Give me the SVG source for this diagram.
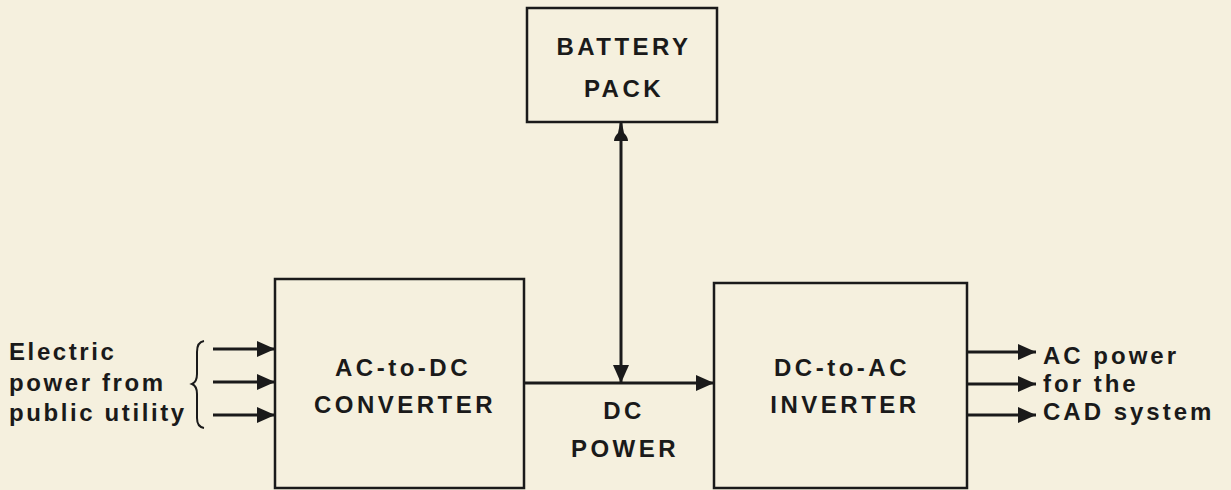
<svg xmlns="http://www.w3.org/2000/svg" width="1231" height="490" viewBox="0 0 1231 490">
<defs>
<marker id="ahb" viewBox="0 0 18 16" refX="18" refY="8" markerWidth="18" markerHeight="16" markerUnits="userSpaceOnUse" orient="auto-start-reverse"><path d="M0,0 L18,8 L0,16 z" fill="#1a1a1a"/></marker>
<marker id="bell" viewBox="0 0 18 16" refX="18" refY="8" markerWidth="18" markerHeight="16" markerUnits="userSpaceOnUse" orient="auto-start-reverse"><path d="M0,1 Q4,1 8,5 L18,7 L18,9 L8,11 Q4,15 0,15 z" fill="#1a1a1a"/></marker>
</defs>
<style>
.box{fill:none;stroke:#1a1a1a;stroke-width:2.5}
.ln{fill:none;stroke:#1a1a1a;stroke-width:3}
text{font-family:"Liberation Sans",Arial,sans-serif;font-weight:bold;fill:#1a1a1a;font-size:24px;letter-spacing:3px}
.l{letter-spacing:2.6px}
.c{text-anchor:middle;letter-spacing:3.5px}
</style>
<rect width="1231" height="490" fill="#f5f0de"/>
<g id="battery">
<rect class="box" x="527" y="8" width="190" height="114"/>
<text class="c" x="624" y="55">BATTERY</text>
<text class="c" x="624" y="97">PACK</text>
</g>
<g id="converter">
<rect class="box" x="275" y="279" width="249" height="209"/>
<text class="c" x="403" y="376">AC-to-DC</text>
<text class="c" x="405" y="413">CONVERTER</text>
</g>
<g id="inverter">
<rect class="box" x="714" y="283" width="253" height="205"/>
<text class="c" x="842" y="376">DC-to-AC</text>
<text class="c" x="845" y="413">INVERTER</text>
</g>
<g id="input-label">
<text class="l" x="9" y="360">Electric</text>
<text class="l" x="9" y="391">power from</text>
<text class="l" x="9" y="421">public utility</text>
<path d="M204,341 Q197,342 197,352 L197,374 Q197,382 192,384 Q197,386 197,394 L197,418 Q197,427 204,428" fill="none" stroke="#1a1a1a" stroke-width="2"/>
</g>
<g id="output-label">
<text x="1043" y="364">AC power</text>
<text x="1043" y="392">for the</text>
<text x="1043" y="420">CAD system</text>
</g>
<g id="dc-power-label">
<text class="c" x="624" y="419">DC</text>
<text class="c" x="625" y="457">POWER</text>
</g>
<g id="connectors">
<line class="ln" x1="213" y1="349" x2="275" y2="349" marker-end="url(#ahb)"/>
<line class="ln" x1="213" y1="382" x2="275" y2="382" marker-end="url(#ahb)"/>
<line class="ln" x1="213" y1="415" x2="275" y2="415" marker-end="url(#ahb)"/>
<line class="ln" x1="524" y1="383" x2="714" y2="383" marker-end="url(#ahb)"/>
<line class="ln" x1="621" y1="123" x2="621" y2="383" marker-start="url(#bell)" marker-end="url(#ahb)"/>
<line class="ln" x1="967" y1="352" x2="1036" y2="352" marker-end="url(#ahb)"/>
<line class="ln" x1="967" y1="384" x2="1036" y2="384" marker-end="url(#ahb)"/>
<line class="ln" x1="967" y1="415" x2="1036" y2="415" marker-end="url(#ahb)"/>
</g>
</svg>
